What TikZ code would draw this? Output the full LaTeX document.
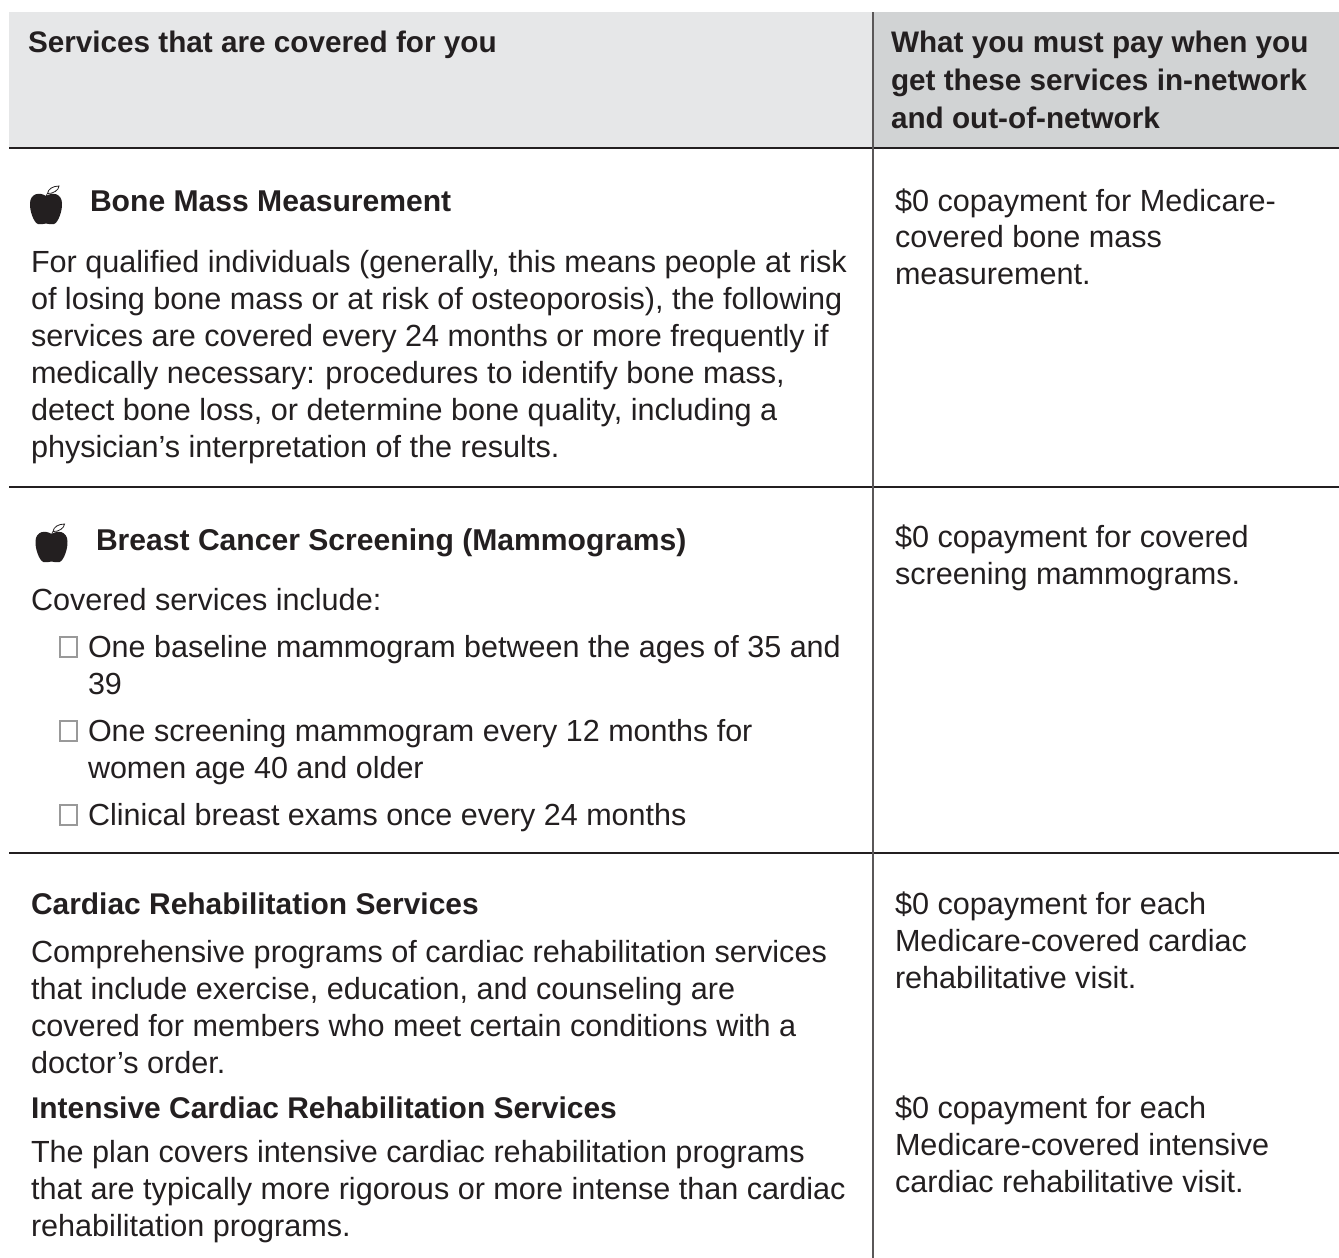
\documentclass[tikz,border=0pt]{standalone}
\usepackage{fontspec}
\setmainfont{Liberation Sans}
\definecolor{ink}{HTML}{231F20}
\definecolor{headL}{HTML}{E6E7E8}
\definecolor{headR}{HTML}{D1D3D4}
\tikzset{
  x=1pt,y=-1pt,
  body/.style={anchor=base west,inner sep=0pt,outer sep=0pt,text=ink,font=\fontsize{30.6}{36}\selectfont\frenchspacing},
  bullet/.style={body,font=\fontsize{30.5}{36}\selectfont},
  head/.style={body,font=\fontsize{29.7}{36}\selectfont\bfseries},
  title/.style={body,font=\fontsize{30.1}{36}\selectfont\bfseries},
  subtitle/.style={body,font=\fontsize{29.95}{36}\selectfont\bfseries},
  rule/.style={draw=ink,line width=1.4pt},
  vrule/.style={draw=ink!75,line width=1.6pt},
  tick/.style={draw=black!40,line width=1.1pt,fill=white},
}
\newcommand{\appleicon}[2]{%
  \begin{scope}[shift={(#1,#2)}]
    \fill[ink] (0,6) .. controls (-6,2) and (-15.5,3) .. (-16,13)
      .. controls (-16.5,21) and (-12,33) .. (-8,34)
      .. controls (-5,35) and (-2,33.5) .. (0,33.5)
      .. controls (2,33.5) and (5,35) .. (8,34)
      .. controls (12,33) and (16.5,21) .. (16,13)
      .. controls (15.5,3) and (6,2) .. (0,6) -- cycle;
    \draw[ink,line width=0.7pt] (0,7) -- (1,4);
    \draw[ink,line width=0.8pt,fill=white] (1.5,3.5) .. controls (2,-1) and (7,-4) .. (13,-4)
      .. controls (13,0) and (7,4) .. (1.5,3.5) -- cycle;
  \end{scope}}
\begin{document}
\begin{tikzpicture}
\useasboundingbox (0,0) rectangle (1339,1258);
\fill[headL] (9,12) rectangle (873,148);
\fill[headR] (873,12) rectangle (1339,148);
\draw[rule] (9,148) -- (1339,148);
\draw[rule] (9,487) -- (1339,487);
\draw[rule] (9,853) -- (1339,853);
\draw[vrule] (873,12) -- (873,1258);
\node[head] (h1) at (28,52) {Services that are covered for you};
\node[head] (h2a) at (891,52) {What you must pay when you};
\node[head] (h2b) at (891,90) {get these services in-network};
\node[head] (h2c) at (891,128) {and out-of-network};
\appleicon{46}{190}
\node[title] (t1) at (90,211) {Bone Mass Measurement};
\node[body] (a1) at (31,272) {For qualified individuals (generally, this means people at risk};
\node[body] (a2) at (31,309) {of losing bone mass or at risk of osteoporosis), the following};
\node[body] (a3) at (31,346) {services are covered every 24 months or more frequently if};
\node[body] (a4) at (31,383) {medically necessary:\hspace{2pt} procedures to identify bone mass,};
\node[body] (a5) at (31,420) {detect bone loss, or determine bone quality, including a};
\node[body] (a6) at (31,457) {physician’s interpretation of the results.};
\node[body] (p1a) at (895,211) {\$0 copayment for Medicare-};
\node[body] (p1b) at (895,247) {covered bone mass};
\node[body] (p1c) at (895,284) {measurement.};
\appleicon{51.5}{528}
\node[title] (t2) at (96,550) {Breast Cancer Screening (Mammograms)};
\node[body] (b0) at (31,610) {Covered services include:};
\draw[tick] (60,637) rectangle (77,657);
\node[bullet] (b1) at (88,657) {One baseline mammogram between the ages of 35 and};
\node[bullet] (b1b) at (88,694) {39};
\draw[tick] (60,721) rectangle (77,741);
\node[bullet] (b2) at (88,741) {One screening mammogram every 12 months for};
\node[bullet] (b2b) at (88,778) {women age 40 and older};
\draw[tick] (60,805) rectangle (77,825);
\node[bullet] (b3) at (88,825) {Clinical breast exams once every 24 months};
\node[body] (p2a) at (895,547) {\$0 copayment for covered};
\node[body] (p2b) at (895,584) {screening mammograms.};
\node[subtitle] (t3) at (31,914) {Cardiac Rehabilitation Services};
\node[body] (c1) at (31,962) {Comprehensive programs of cardiac rehabilitation services};
\node[body] (c2) at (31,999) {that include exercise, education, and counseling are};
\node[body] (c3) at (31,1036) {covered for members who meet certain conditions with a};
\node[body] (c4) at (31,1073) {doctor’s order.};
\node[subtitle] (t4) at (31,1118) {Intensive Cardiac Rehabilitation Services};
\node[body] (d1) at (31,1162) {The plan covers intensive cardiac rehabilitation programs};
\node[body] (d2) at (31,1199) {that are typically more rigorous or more intense than cardiac};
\node[body] (d3) at (31,1236) {rehabilitation programs.};
\node[body] (p3a) at (895,914) {\$0 copayment for each};
\node[body] (p3b) at (895,951) {Medicare-covered cardiac};
\node[body] (p3c) at (895,988) {rehabilitative visit.};
\node[body] (p4a) at (895,1118) {\$0 copayment for each};
\node[body] (p4b) at (895,1155) {Medicare-covered intensive};
\node[body] (p4c) at (895,1192) {cardiac rehabilitative visit.};
\end{tikzpicture}
\end{document}
